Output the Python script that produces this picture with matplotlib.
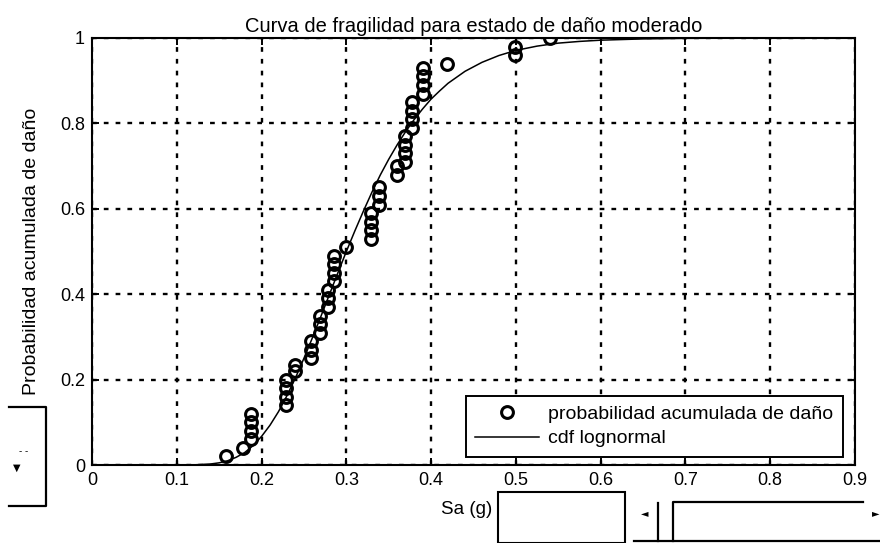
import matplotlib
matplotlib.use('Agg')
import matplotlib.pyplot as plt
from matplotlib.lines import Line2D
from matplotlib.patches import Rectangle

plt.rcParams['font.family'] = ['Liberation Sans', 'DejaVu Sans']

# puntos observados (Sa, probabilidad acumulada)
sa_obs = [0.158, 0.178,
          0.188, 0.188, 0.188, 0.188,
          0.229, 0.229, 0.229, 0.229,
          0.240, 0.240,
          0.258, 0.258, 0.258,
          0.269, 0.269, 0.269,
          0.278, 0.278, 0.278,
          0.286, 0.286, 0.286, 0.286,
          0.300,
          0.329, 0.329, 0.329, 0.329,
          0.339, 0.339, 0.339,
          0.360, 0.360,
          0.369, 0.369, 0.369, 0.369,
          0.378, 0.378, 0.378, 0.378,
          0.391, 0.391, 0.391, 0.391,
          0.419,
          0.499, 0.499,
          0.540]
p_obs = [0.02, 0.04,
         0.06, 0.08, 0.10, 0.12,
         0.14, 0.16, 0.18, 0.20,
         0.22, 0.235,
         0.25, 0.27, 0.29,
         0.31, 0.33, 0.35,
         0.37, 0.39, 0.41,
         0.43, 0.45, 0.47, 0.49,
         0.51,
         0.53, 0.55, 0.57, 0.59,
         0.61, 0.63, 0.65,
         0.68, 0.70,
         0.71, 0.73, 0.75, 0.77,
         0.79, 0.81, 0.83, 0.85,
         0.87, 0.89, 0.91, 0.93,
         0.94,
         0.96, 0.98,
         1.00]

# curva lognormal
sa_cdf = [0.03, 0.10, 0.12, 0.14, 0.15, 0.16, 0.17, 0.18, 0.19, 0.20, 0.21, 0.22,
          0.23, 0.24, 0.25, 0.26, 0.27, 0.28, 0.29, 0.30, 0.31, 0.32, 0.33, 0.34,
          0.35, 0.36, 0.37, 0.38, 0.39, 0.40, 0.41, 0.42, 0.44, 0.46, 0.48, 0.50,
          0.525, 0.55, 0.575, 0.60, 0.65, 0.70, 0.80, 0.90]
p_cdf = [0.0, 0.0, 0.0003, 0.0024, 0.0051, 0.0099, 0.018, 0.029, 0.0453, 0.067, 0.0933, 0.125,
         0.1625, 0.204, 0.250, 0.298, 0.348, 0.399, 0.450, 0.500, 0.548, 0.594, 0.638, 0.679,
         0.716, 0.750, 0.781, 0.809, 0.834, 0.857, 0.876, 0.894, 0.922, 0.943, 0.959, 0.971,
         0.981, 0.988, 0.992, 0.9949, 0.9979, 0.9992, 1.0, 1.0]

xticks = [0, 0.1, 0.2, 0.3, 0.4, 0.5, 0.6, 0.7, 0.8, 0.9]
yticks = [0, 0.2, 0.4, 0.6, 0.8, 1]

fig = plt.figure(figsize=(8.8, 5.43), dpi=100)
ax = fig.add_axes([92/880, 78/543, 763/880, 427/543])

ax.plot(sa_obs, p_obs, 'o', mfc='none', mec='black', mew=2.2, ms=8.5,
        label='probabilidad acumulada de daño')
ax.plot(sa_cdf, p_cdf, '-', color='black', lw=1.1, label='cdf lognormal')

ax.set_xlim(0, 0.9)
ax.set_ylim(0, 1)
ax.set_xticks(xticks)
ax.set_yticks(yticks)
ax.set_xticklabels([('%g' % t) for t in xticks])
ax.set_yticklabels([('%g' % t) for t in yticks])
ax.tick_params(direction='in', length=5, width=1.4, labelsize=13, top=True, right=True,
               pad=5)
for s in ax.spines.values():
    s.set_linewidth(1.5)
ax.grid(True, color='black', linestyle=(0, (2, 3)), linewidth=1.7)

ax.set_title('Curva de fragilidad para estado de daño moderado', fontsize=14.5, pad=4)
ax.set_xlabel('Sa (g)', fontsize=13.5)
ax.xaxis.set_label_coords((467 - 92) / 763, -45 / 427)
ax.xaxis.label.set_va('center')
ax.set_ylabel('Probabilidad acumulada de daño', fontsize=14, labelpad=14)

leg = ax.legend(loc='lower right', bbox_to_anchor=(0.992, 0.005), fontsize=14,
                frameon=True, fancybox=False, edgecolor='black', framealpha=1,
                handlelength=3.3, handletextpad=0.45, borderpad=0.5, labelspacing=0.35,
                borderaxespad=0.3)
leg.get_frame().set_linewidth(1.4)

# restos de controles de la ventana (captura)
W, H = 880.0, 543.0
def fl(xs, ys, lw=1.6):
    fig.add_artist(Line2D([x / W for x in xs], [1 - y / H for y in ys],
                          color='black', lw=lw, transform=fig.transFigure))

fl([9, 46, 46, 9], [407, 407, 506, 506])
fig.text(17/W, 1 - 468/H, '▼', fontsize=7, ha='center', va='center', family='DejaVu Sans')
fig.text(24/W, 1 - 451/H, '- -', fontsize=7, ha='center', va='center')

fig.add_artist(Rectangle((498/W, 0), (625-498)/W, 1 - 492/H, fill=False,
                         edgecolor='black', lw=1.5, transform=fig.transFigure))
fl([634, 880], [541, 541])
fl([658, 658], [503, 541])
fl([673, 673, 863], [541, 502, 502])
fig.text(645/W, 1 - 513/H, '◄', fontsize=7, ha='center', va='center', family='DejaVu Sans')
fig.text(876/W, 1 - 513/H, '►', fontsize=7, ha='center', va='center', family='DejaVu Sans')

fig.savefig('out.png', dpi=100)
